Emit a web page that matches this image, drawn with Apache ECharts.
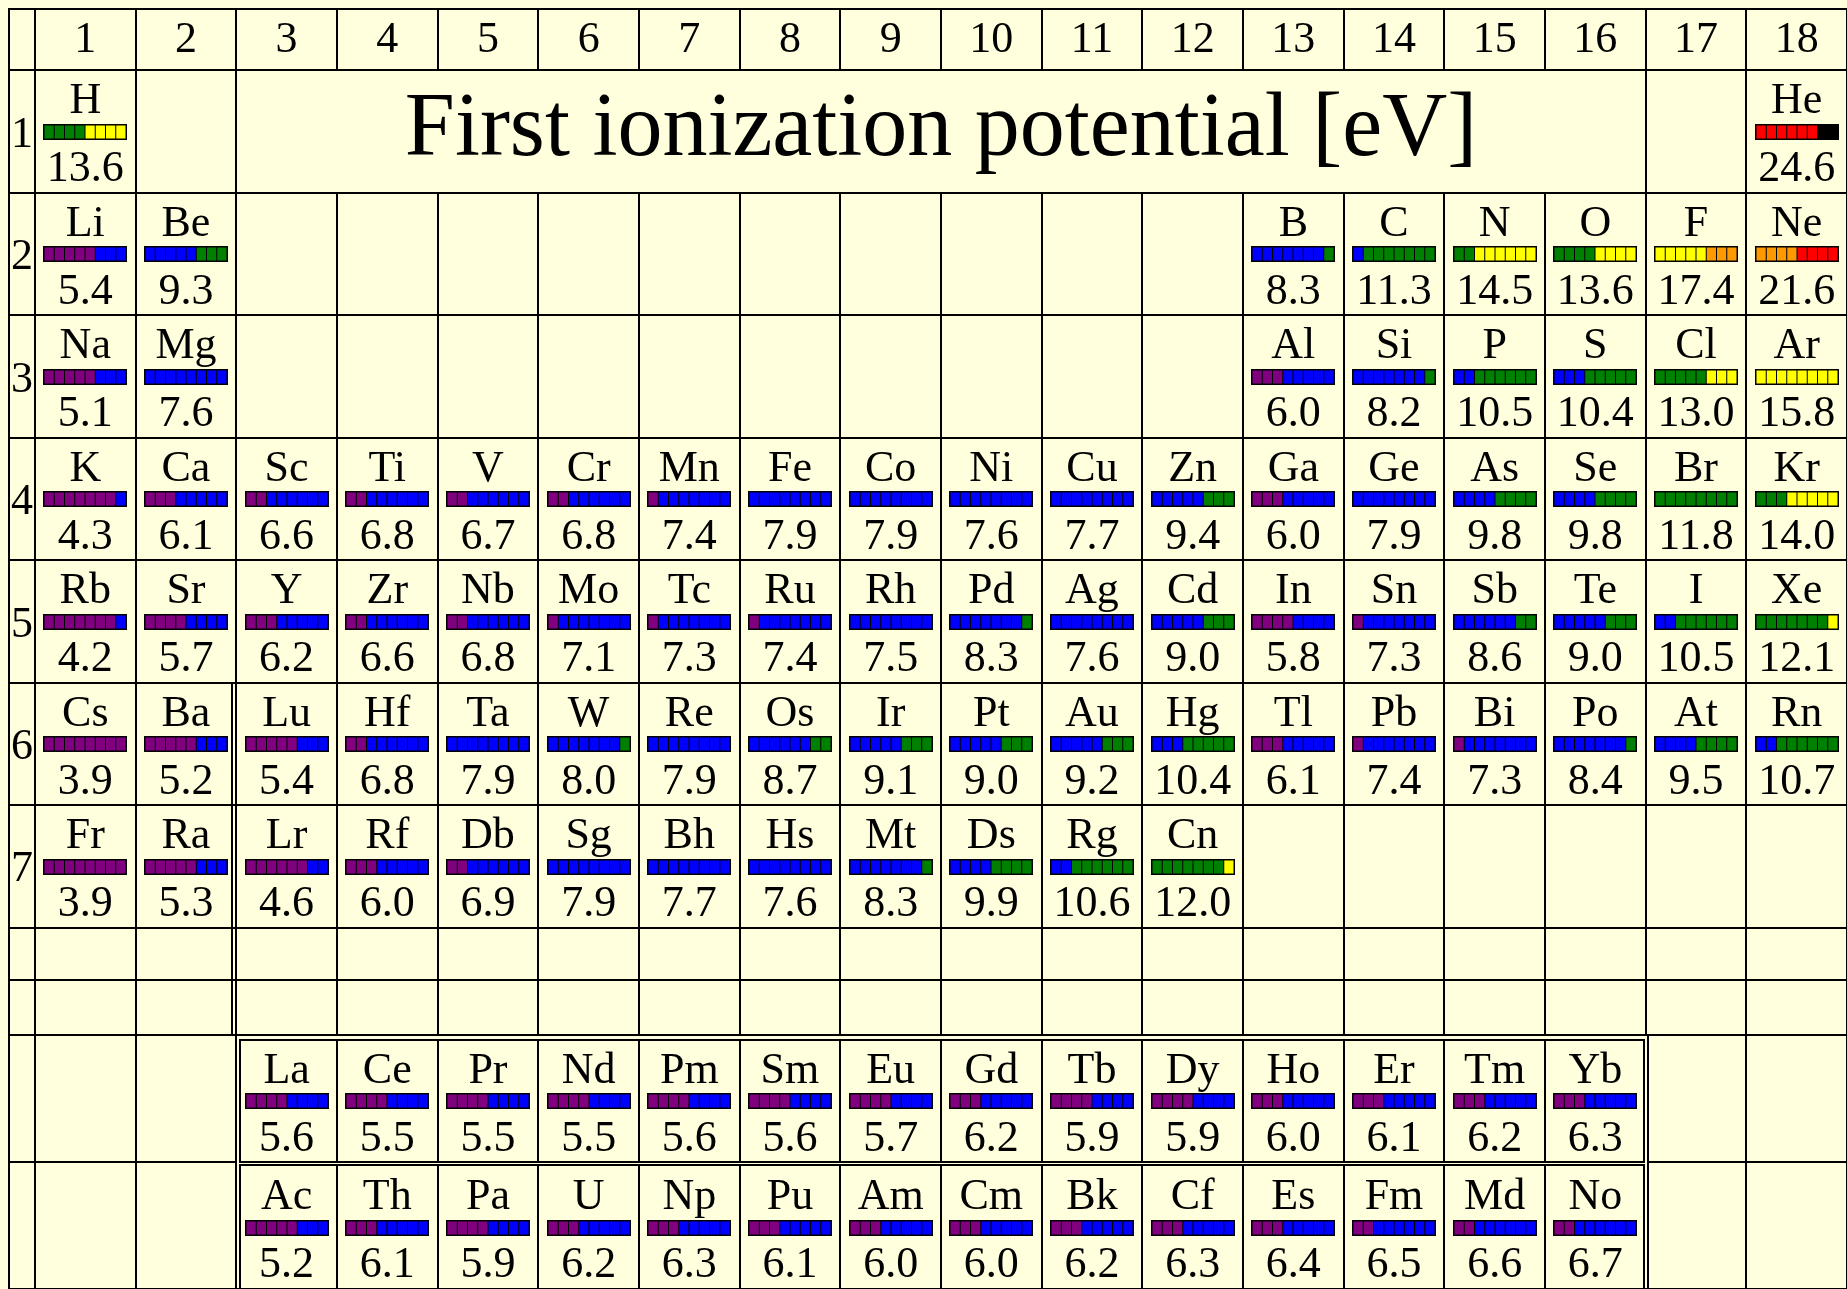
<!DOCTYPE html>
<html>
<head>
<meta charset="utf-8">
<script src="https://cdn.jsdelivr.net/npm/echarts@6/dist/echarts.min.js"></script>
<style>
html,body{margin:0;padding:0;background:#ffffdd;}
#chart{width:1847px;height:1289px;}
</style>
</head>
<body>
<div id="chart"></div>
<script>
// ---------------- DATA ----------------
const titleText = 'First ionization potential [eV]';
const groupLabels = ['1','2','3','4','5','6','7','8','9','10','11','12','13','14','15','16','17','18'];
const periodLabels = ['1','2','3','4','5','6','7'];

const symbols = ['H','He','Li','Be','B','C','N','O','F','Ne','Na','Mg','Al','Si','P','S','Cl','Ar',
 'K','Ca','Sc','Ti','V','Cr','Mn','Fe','Co','Ni','Cu','Zn','Ga','Ge','As','Se','Br','Kr',
 'Rb','Sr','Y','Zr','Nb','Mo','Tc','Ru','Rh','Pd','Ag','Cd','In','Sn','Sb','Te','I','Xe',
 'Cs','Ba','La','Ce','Pr','Nd','Pm','Sm','Eu','Gd','Tb','Dy','Ho','Er','Tm','Yb',
 'Lu','Hf','Ta','W','Re','Os','Ir','Pt','Au','Hg','Tl','Pb','Bi','Po','At','Rn',
 'Fr','Ra','Ac','Th','Pa','U','Np','Pu','Am','Cm','Bk','Cf','Es','Fm','Md','No',
 'Lr','Rf','Db','Sg','Bh','Hs','Mt','Ds','Rg','Cn'];

const ionization = [13.6,24.6,5.4,9.3,8.3,11.3,14.5,13.6,17.4,21.6,5.1,7.6,6.0,8.2,10.5,10.4,13.0,15.8,
 4.3,6.1,6.6,6.8,6.7,6.8,7.4,7.9,7.9,7.6,7.7,9.4,6.0,7.9,9.8,9.8,11.8,14.0,
 4.2,5.7,6.2,6.6,6.8,7.1,7.3,7.4,7.5,8.3,7.6,9.0,5.8,7.3,8.6,9.0,10.5,12.1,
 3.9,5.2,5.6,5.5,5.5,5.5,5.6,5.6,5.7,6.2,5.9,5.9,6.0,6.1,6.2,6.3,
 5.4,6.8,7.9,8.0,7.9,8.7,9.1,9.0,9.2,10.4,6.1,7.4,7.3,8.4,9.5,10.7,
 3.9,5.3,5.2,6.1,5.9,6.2,6.3,6.1,6.0,6.0,6.2,6.3,6.4,6.5,6.6,6.7,
 4.6,6.0,6.9,7.9,7.7,7.6,8.3,9.9,10.6,12.0];

// table column (group) of each element
const groups = [1,18,1,2,13,14,15,16,17,18,1,2,13,14,15,16,17,18,
 1,2,3,4,5,6,7,8,9,10,11,12,13,14,15,16,17,18,
 1,2,3,4,5,6,7,8,9,10,11,12,13,14,15,16,17,18,
 1,2,3,4,5,6,7,8,9,10,11,12,13,14,15,16,
 3,4,5,6,7,8,9,10,11,12,13,14,15,16,17,18,
 1,2,3,4,5,6,7,8,9,10,11,12,13,14,15,16,
 3,4,5,6,7,8,9,10,11,12];

// table row of each element (8 = lanthanide row, 9 = actinide row)
const periods = [1,1,2,2,2,2,2,2,2,2,3,3,3,3,3,3,3,3,
 4,4,4,4,4,4,4,4,4,4,4,4,4,4,4,4,4,4,
 5,5,5,5,5,5,5,5,5,5,5,5,5,5,5,5,5,5,
 6,6,8,8,8,8,8,8,8,8,8,8,8,8,8,8,
 6,6,6,6,6,6,6,6,6,6,6,6,6,6,6,6,
 7,7,9,9,9,9,9,9,9,9,9,9,9,9,9,9,
 7,7,7,7,7,7,7,7,7,7];

// 8-segment colour strip read for each element (P purple, B blue, G green, Y yellow, O orange, R red, K black)
const barPatterns = ['GGGGYYYY','RRRRRRKK','PPPPPBBB','BBBBBGGG','BBBBBBBG','BGGGGGGG','GGYYYYYY','GGGGYYYY','YYYYYOOO','OOOORRRR',
 'PPPPPBBB','BBBBBBBB','PPPBBBBB','BBBBBBBG','BBGGGGGG','BBBGGGGG','GGGGGYYY','YYYYYYYY',
 'PPPPPPPB','PPPBBBBB','PPBBBBBB','PPBBBBBB','PPBBBBBB','PPBBBBBB','PBBBBBBB','BBBBBBBB','BBBBBBBB','BBBBBBBB','BBBBBBBB','BBBBBGGG','PPPBBBBB','BBBBBBBB','BBBBGGGG','BBBBGGGG','GGGGGGGG','GGGYYYYY',
 'PPPPPPPB','PPPPBBBB','PPPBBBBB','PPBBBBBB','PPBBBBBB','PBBBBBBB','PBBBBBBB','PBBBBBBB','BBBBBBBB','BBBBBBBG','BBBBBBBB','BBBBBGGG','PPPPBBBB','PBBBBBBB','BBBBBBGG','BBBBBGGG','BBGGGGGG','GGGGGGGY',
 'PPPPPPPP','PPPPPBBB','PPPPBBBB','PPPPBBBB','PPPPBBBB','PPPPBBBB','PPPPBBBB','PPPPBBBB','PPPPBBBB','PPPBBBBB','PPPPBBBB','PPPPBBBB','PPPBBBBB','PPPBBBBB','PPPBBBBB','PPPBBBBB',
 'PPPPPBBB','PPBBBBBB','BBBBBBBB','BBBBBBBG','BBBBBBBB','BBBBBBGG','BBBBBGGG','BBBBBGGG','BBBBBGGG','BBBGGGGG','PPPBBBBB','PBBBBBBB','PBBBBBBB','BBBBBBBG','BBBBGGGG','BBGGGGGG',
 'PPPPPPPP','PPPPPBBB','PPPPPBBB','PPPBBBBB','PPPPBBBB','PPPBBBBB','PPPBBBBB','PPPBBBBB','PPPBBBBB','PPPBBBBB','PPPBBBBB','PPPBBBBB','PPPBBBBB','PPBBBBBB','PPBBBBBB','PPBBBBBB',
 'PPPPPPBB','PPPBBBBB','PPBBBBBB','BBBBBBBB','BBBBBBBB','BBBBBBBB','BBBBBBBG','BBBBGGGG','BBGGGGGG','GGGGGGGY'];

// ---------------- STYLE / LAYOUT ----------------
const FONT = '"Liberation Serif","Times New Roman",serif';
const SEG_COLORS = {P:'#800080', B:'#0000ff', G:'#008000', Y:'#ffff00', O:'#ff9900', R:'#ff0000', K:'#000000'};
const COL_W = 100.9, ROW_H = 122.6;
const X_MIN = -26 / COL_W, X_MAX = 18, Y_MIN = -0.5, Y_MAX = 9.95;
const GAP1 = 7.43, GAP2 = 7.88, AC_TOP = 8.915;
const TXT_DY = 3.5;

function rowSpan(p) {
  if (p <= 7) return [p - 1, p];
  if (p === 8) return [GAP2, AC_TOP];
  return [AC_TOP, Y_MAX];
}

// table skeleton cells: [x0, x1, y0, y1, shiftLeftFlag]
const tableRows = [{y0: Y_MIN, y1: 0, kind: 'header'}];
for (let p = 1; p <= 7; p++) tableRows.push({y0: p - 1, y1: p, kind: p === 1 ? 'p1' : 'n'});
tableRows.push({y0: 7, y1: GAP1, kind: 'n'});
tableRows.push({y0: GAP1, y1: GAP2, kind: 'n'});
tableRows.push({y0: GAP2, y1: AC_TOP, kind: 'f'});
tableRows.push({y0: AC_TOP, y1: Y_MAX, kind: 'f'});
const cellRects = [];
tableRows.forEach(r => {
  for (let c = 0; c <= 18; c++) {
    const x0 = c === 0 ? X_MIN : c - 1, x1 = c === 0 ? 0 : c;
    if (r.kind === 'p1' && c >= 3 && c <= 16) { if (c === 3) cellRects.push([2, 16, r.y0, r.y1, 0]); continue; }
    if (r.kind === 'f' && c >= 3 && c <= 16) continue;
    cellRects.push([x0, x1, r.y0, r.y1, (r.kind === 'f' && c === 17) ? 1 : 0]);
  }
});
// f-block inner cells
const fCells = [];
[[GAP2, AC_TOP, 0], [AC_TOP, Y_MAX, 1]].forEach(r => {
  for (let c = 3; c <= 16; c++) fCells.push([c - 1, c, r[0], r[1], r[2]]);
});

// labels
const labelItems = [];
groupLabels.forEach((t, i) => labelItems.push({value: [i + 0.5, Y_MIN], text: t, kind: 'g'}));
periodLabels.forEach((t, i) => labelItems.push({value: [X_MIN / 2, i + 0.5], text: t, kind: 'p'}));
labelItems.push({value: [9, 0], text: titleText, kind: 't'});

const R = Math.round;
const chart = echarts.init(document.getElementById('chart'), null, {renderer: 'canvas'});
chart.setOption({
  backgroundColor: '#ffffdd',
  animation: false,
  grid: {left: 9, top: 9, width: (X_MAX - X_MIN) * COL_W, height: (Y_MAX - Y_MIN) * ROW_H},
  xAxis: {type: 'value', min: X_MIN, max: X_MAX, show: false},
  yAxis: {type: 'value', min: Y_MIN, max: Y_MAX, inverse: true, show: false},
  series: [
    {
      type: 'custom', name: 'cells', silent: true, clip: false,
      data: cellRects,
      renderItem: (params, api) => {
        const a = api.coord([api.value(0), api.value(2)]);
        const b = api.coord([api.value(1), api.value(3)]);
        const x0 = R(a[0]) + (api.value(4) ? 2 : 0);
        return {type: 'rect', shape: {x: x0, y: R(a[1]), width: R(b[0]) - x0, height: R(b[1]) - R(a[1])},
          style: {fill: null, stroke: '#000', lineWidth: 2}};
      }
    },
    {
      type: 'custom', name: 'fblock', silent: true, clip: false,
      data: fCells,
      renderItem: (params, api) => {
        const c1 = api.value(1);
        const a = api.coord([api.value(0), api.value(2)]);
        const b = api.coord([c1, api.value(3)]);
        let x0 = R(a[0]), x1 = R(b[0]), y0 = R(a[1]), y1 = R(b[1]);
        if (api.value(0) === 2) x0 += 4;
        if (c1 === 16) x1 -= 2;
        y0 += api.value(4) === 0 ? 5 : 3;
        const children = [{type: 'rect', shape: {x: x0, y: y0, width: x1 - x0, height: y1 - y0},
          style: {fill: null, stroke: '#000', lineWidth: 2}}];
        if (params.dataIndex === 0) {
          const f0 = api.coord([2, GAP2]), f1 = api.coord([16, Y_MAX]);
          children.push({type: 'rect', shape: {x: R(f0[0]), y: R(f0[1]), width: R(f1[0]) + 2 - R(f0[0]), height: R(f1[1]) - R(f0[1])},
            style: {fill: null, stroke: '#000', lineWidth: 2}});
          const d0 = api.coord([2, 5]), d1 = api.coord([2, GAP2]);
          children.push({type: 'line', shape: {x1: R(d0[0]) - 4, y1: R(d0[1]), x2: R(d1[0]) - 4, y2: R(d1[1])},
            style: {stroke: '#000', lineWidth: 2}});
        }
        return {type: 'group', children};
      }
    },
    {
      type: 'custom', name: 'labels', silent: true, clip: false,
      data: labelItems,
      renderItem: (params, api) => {
        const it = labelItems[params.dataIndex];
        const pt = api.coord(it.value);
        let y = pt[1], size = 44;
        if (it.kind === 'g') y += 28 + TXT_DY;
        else if (it.kind === 'p') y += TXT_DY;
        else { y += 61; size = 90; }
        return {type: 'text', style: {text: it.text, x: pt[0], y: y, align: 'center', verticalAlign: 'middle',
          font: size + 'px ' + FONT, fill: '#000'}};
      }
    },
    {
      type: 'custom', name: 'First ionization potential', silent: true, clip: false,
      data: symbols.map((s, i) => [groups[i], periods[i], ionization[i]]),
      renderItem: (params, api) => {
        const i = params.dataIndex;
        const g = api.value(0), p = api.value(1);
        const span = rowSpan(p);
        const l = api.coord([g - 1, span[0]]), r = api.coord([g, span[0]]);
        const cx = (l[0] + r[0]) / 2;
        let top = l[1];
        if (p >= 8) top += 4;
        const children = [];
        children.push({type: 'text', style: {text: symbols[i], x: cx, y: top + 28 + TXT_DY, align: 'center', verticalAlign: 'middle',
          font: '44px ' + FONT, fill: '#000'}});
        const bx = R(cx - 42), by = R(top + 53.5);
        children.push({type: 'rect', shape: {x: bx, y: by, width: 84, height: 16}, style: {fill: '#000'}});
        const pat = barPatterns[i];
        for (let k = 0; k < 8; k++) {
          children.push({type: 'rect', shape: {x: bx + 1.5 + k * 10.25, y: by + 1.5, width: 9.25, height: 13},
            style: {fill: SEG_COLORS[pat[k]]}});
        }
        children.push({type: 'text', style: {text: api.value(2).toFixed(1), x: cx, y: top + 96 + TXT_DY, align: 'center', verticalAlign: 'middle',
          font: '44px ' + FONT, fill: '#000'}});
        return {type: 'group', children};
      }
    }
  ]
});
</script>
</body>
</html>
